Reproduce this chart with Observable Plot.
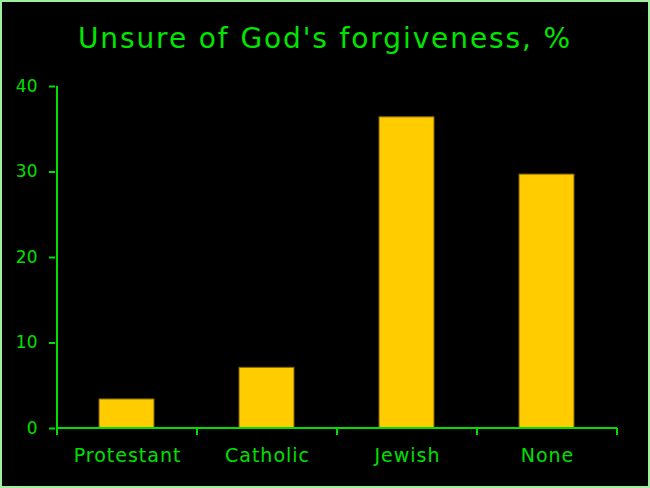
<!DOCTYPE html>
<html><head><meta charset="utf-8">
<script src="https://cdn.jsdelivr.net/npm/d3@7"></script>
<script src="https://cdn.jsdelivr.net/npm/@observablehq/plot@0.6"></script>
<style>
html,body{margin:0;padding:0;background:#fff;}
#frame{width:646px;height:484px;background:#000;border:2px solid #9ef09e;overflow:hidden;position:relative;}
#title{height:70px;color:#00e600;font-family:"DejaVu Sans",sans-serif;font-size:28px;letter-spacing:1.9px;text-align:center;line-height:74px;}
svg{display:block;}
g[aria-label="x-axis tick label"] text{font-size:19px !important;letter-spacing:1px;}
g[aria-label="y-axis tick label"] text{font-size:17px !important;}
</style></head>
<body><div id="frame"><div id="title">Unsure of God's forgiveness, %</div><div id="chart"></div></div>
<script>
const categories = ["Protestant", "Catholic", "Jewish", "None"];
const values = [3.4, 7.1, 36.4, 29.7];
const yTicks = [0, 10, 20, 30, 40];
const data = categories.map((c, i) => ({category: c, value: values[i]}));
const green = "#00e000";

const axisLines = (index, scales, vals, dims) => {
  const g = d3.create("svg:g");
  const x = scales.x, y = scales.y;
  const bw = x.bandwidth ? x.bandwidth() : 0;
  const edges = categories.map(c => x(c)).concat([x(categories[categories.length-1]) + bw]);
  const y0 = y(0), yTop = y(d3.max(yTicks));
  g.selectAll("line.t").data(edges).join("line")
    .attr("x1", d => d).attr("x2", d => d)
    .attr("y1", y0).attr("y2", y0 + 7)
    .attr("stroke", green).attr("stroke-width", 2);
  g.append("line").attr("x1", edges[0]).attr("x2", edges[edges.length-1])
    .attr("y1", y0).attr("y2", y0).attr("stroke", green).attr("stroke-width", 2);
  g.append("line").attr("x1", edges[0]).attr("x2", edges[0])
    .attr("y1", yTop).attr("y2", y0).attr("stroke", green).attr("stroke-width", 2);
  return g.node();
};

const chart = Plot.plot({
  width: 646,
  height: 412,
  marginTop: 14,
  marginLeft: 53,
  marginRight: 30,
  marginBottom: 56,
  style: {background: "#000", color: green, fontFamily: "DejaVu Sans, sans-serif", fontSize: "17px"},
  x: {domain: categories, padding: 0, label: null},
  y: {domain: [0, 40], ticks: yTicks, label: null},
  marks: [
    Plot.barY(data, {x: "category", y: "value", fill: "#ffcc00", stroke: "#7a6200", strokeWidth: 1, insetLeft: 42, insetRight: 43}),
    Plot.axisY({ticks: yTicks, tickSize: 6, tickPadding: 12, stroke: green, strokeWidth: 2, fill: green, strokeOpacity: 1}),
    axisLines,
    Plot.axisX({tickSize: 0, tickPadding: 20, fill: green})
  ]
});
document.getElementById("chart").appendChild(chart);
</script>
</body></html>
